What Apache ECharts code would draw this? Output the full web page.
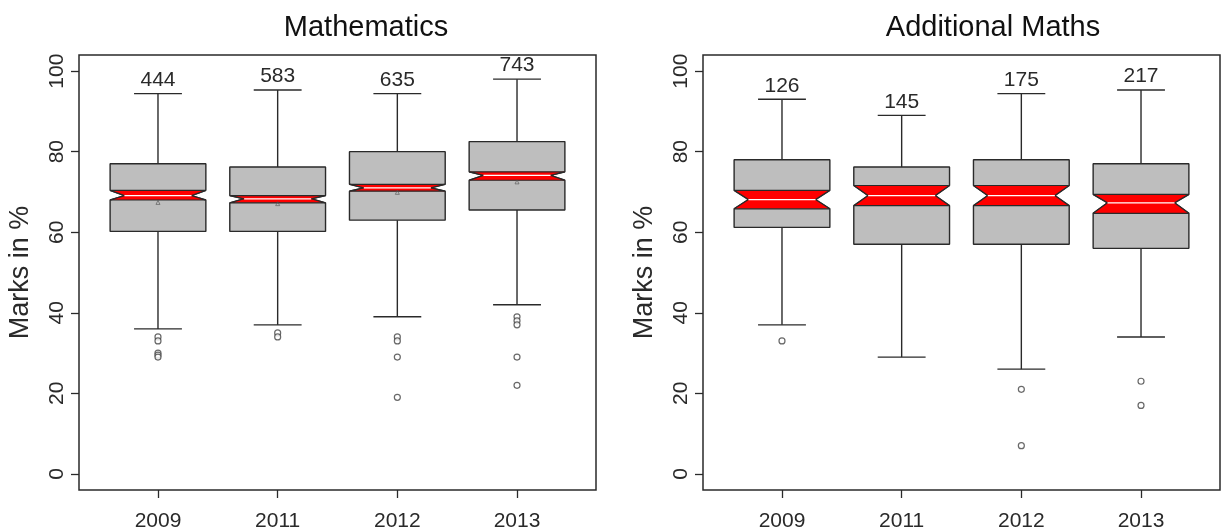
<!DOCTYPE html>
<html>
<head>
<meta charset="utf-8">
<script src="https://cdn.jsdelivr.net/npm/echarts@6/dist/echarts.min.js"></script>
<style>html,body{margin:0;padding:0;background:#fff;}#c{width:1221px;height:531px;}</style>
</head>
<body>
<div id="c"></div>
<script>
// ---- data ----
const categories = ['2009', '2011', '2012', '2013'];
const yTicks = [0, 20, 40, 60, 80, 100];
const panelTitles = ['Mathematics', 'Additional Maths'];
const yAxisName = 'Marks in %';

// Mathematics
const mathN = [444, 583, 635, 743];
const mathLowerWhisker = [36, 37, 39, 42];
const mathQ1 = [60.2, 60.2, 63, 65.5];
const mathNotchLow = [68.0, 67.3, 70.2, 72.9];
const mathMedian = [69.1, 68.3, 71.0, 74.1];
const mathNotchHigh = [70.4, 69.1, 71.9, 75.0];
const mathQ3 = [77, 76.2, 80, 82.5];
const mathUpperWhisker = [94.4, 95.3, 94.4, 98];
const mathMean = [67.4, 67.1, 69.9, 72.5];
const mathOutliers = [[34, 33, 30, 29.5, 29], [35, 34], [34, 33, 29, 19], [39, 38, 37, 29, 22]];

// Additional Maths
const addN = [126, 145, 175, 217];
const addLowerWhisker = [37, 29, 26, 34];
const addQ1 = [61.2, 57, 57, 56];
const addNotchLow = [65.8, 66.6, 66.6, 64.7];
const addMedian = [68.1, 69.1, 69.1, 67.3];
const addNotchHigh = [70.4, 71.6, 71.6, 69.4];
const addQ3 = [78, 76.2, 78, 77];
const addUpperWhisker = [93, 89, 94.4, 95.3];
const addOutliers = [[33], [], [21, 7], [23, 17]];

// ---- style ----
const FONT = '"Liberation Sans", Arial, sans-serif';
const INK = '#2a2a2a';
const BOX_W = 0.8;      // box width in x units
const NOTCH_IND = 0.15; // notch indentation as fraction of box width
const CAP_W = 0.4;

function boxRows(n, lw, q1, nl, med, nh, q3, uw) {
  return categories.map((c, i) => [i + 1, lw[i], q1[i], nl[i], med[i], nh[i], q3[i], uw[i], n[i]]);
}
function outlierPts(outs) {
  const pts = [];
  outs.forEach((arr, i) => arr.forEach(v => pts.push([i + 1, v])));
  return pts;
}

function renderBox(params, api) {
  const x = api.value(0);
  const lw = api.value(1), q1 = api.value(2), nl = api.value(3), med = api.value(4),
        nh = api.value(5), q3 = api.value(6), uw = api.value(7), n = api.value(8);
  const px = v => api.coord([x, v]);
  const c = px(med)[0];
  const half = api.size([BOX_W, 0])[0] / 2;
  const capHalf = api.size([CAP_W, 0])[0] / 2;
  const ind = 2 * half * NOTCH_IND;
  const L = c - half, R = c + half;
  const yq1 = px(q1)[1], yq3 = px(q3)[1], ynl = px(nl)[1], ynh = px(nh)[1], ym = px(med)[1];
  const ylw = px(lw)[1], yuw = px(uw)[1];
  const lineStyle = { stroke: INK, lineWidth: 1.4, fill: null };
  return {
    type: 'group',
    children: [
      { type: 'line', shape: { x1: c, y1: yq3, x2: c, y2: yuw }, style: lineStyle },
      { type: 'line', shape: { x1: c - capHalf, y1: yuw, x2: c + capHalf, y2: yuw }, style: lineStyle },
      { type: 'line', shape: { x1: c, y1: yq1, x2: c, y2: ylw }, style: lineStyle },
      { type: 'line', shape: { x1: c - capHalf, y1: ylw, x2: c + capHalf, y2: ylw }, style: lineStyle },
      { type: 'polygon', shape: { points: [[L, yq3], [R, yq3], [R, ynh], [R - ind, ym], [R, ynl], [R, yq1], [L, yq1], [L, ynl], [L + ind, ym], [L, ynh]] },
        style: { fill: '#bebebe', stroke: INK, lineWidth: 1.4, lineJoin: 'bevel' } },
      { type: 'polygon', shape: { points: [[L, ynh], [R, ynh], [R - ind, ym], [R, ynl], [L, ynl], [L + ind, ym]] },
        style: { fill: '#ff0000', stroke: INK, lineWidth: 1.2, lineJoin: 'bevel' } },
      { type: 'line', shape: { x1: L + ind, y1: ym, x2: R - ind, y2: ym }, style: { stroke: '#ffffff', lineWidth: 1.3 } },
      { type: 'text', style: { text: String(n), x: c, y: yuw - 3, align: 'center', verticalAlign: 'bottom',
        fontSize: 21, fontFamily: FONT, fill: INK } }
    ]
  };
}

const grids = [
  { left: 79, top: 55, width: 517, height: 435 },
  { left: 703, top: 55, width: 517, height: 435 }
];

function xAxisFor(gi) {
  return {
    gridIndex: gi, type: 'value', min: 0.34, max: 4.66, position: 'bottom',
    axisLine: { show: false, onZero: false }, splitLine: { show: false },
    axisTick: { show: true, length: 8, inside: false, customValues: [1, 2, 3, 4], lineStyle: { color: INK, width: 1.3 } },
    axisLabel: { show: true, customValues: [1, 2, 3, 4], formatter: v => categories[Math.round(v) - 1],
      fontSize: 21, fontFamily: FONT, color: INK, margin: 21 }
  };
}
function yAxisFor(gi) {
  return {
    gridIndex: gi, type: 'value', min: -4, max: 104, position: 'left',
    name: yAxisName, nameLocation: 'middle', nameRotate: 90, nameGap: 45,
    nameTextStyle: { fontSize: 27, fontFamily: FONT, color: INK },
    axisLine: { show: false, onZero: false }, splitLine: { show: false },
    axisTick: { show: true, length: 8, inside: false, customValues: yTicks, lineStyle: { color: INK, width: 1.3 } },
    axisLabel: { show: true, customValues: yTicks, rotate: 90, fontSize: 21, fontFamily: FONT, color: INK, margin: 11 }
  };
}

const option = {
  backgroundColor: '#ffffff',
  animation: false,
  title: [
    { text: panelTitles[0], left: 361, top: 8, textAlign: 'center', textStyle: { fontSize: 29, fontWeight: 'normal', fontFamily: FONT, color: '#111' } },
    { text: panelTitles[1], left: 988, top: 8, textAlign: 'center', textStyle: { fontSize: 29, fontWeight: 'normal', fontFamily: FONT, color: '#111' } }
  ],
  grid: grids.map(g => Object.assign({ show: true, borderColor: INK, borderWidth: 1.5, backgroundColor: 'transparent',
    containLabel: false, outerBoundsMode: 'none' }, g)),
  xAxis: [xAxisFor(0), xAxisFor(1)],
  yAxis: [yAxisFor(0), yAxisFor(1)],
  series: [
    { type: 'custom', xAxisIndex: 0, yAxisIndex: 0, renderItem: renderBox,
      data: boxRows(mathN, mathLowerWhisker, mathQ1, mathNotchLow, mathMedian, mathNotchHigh, mathQ3, mathUpperWhisker),
      encode: { x: 0, y: [1, 7] }, z: 2 },
    { type: 'custom', xAxisIndex: 1, yAxisIndex: 1, renderItem: renderBox,
      data: boxRows(addN, addLowerWhisker, addQ1, addNotchLow, addMedian, addNotchHigh, addQ3, addUpperWhisker),
      encode: { x: 0, y: [1, 7] }, z: 2 },
    { type: 'scatter', xAxisIndex: 0, yAxisIndex: 0, data: outlierPts(mathOutliers), symbol: 'circle', symbolSize: 6,
      itemStyle: { color: '#ffffff', borderColor: '#444', borderWidth: 1.2 }, z: 3 },
    { type: 'scatter', xAxisIndex: 1, yAxisIndex: 1, data: outlierPts(addOutliers), symbol: 'circle', symbolSize: 6,
      itemStyle: { color: '#ffffff', borderColor: '#444', borderWidth: 1.2 }, z: 3 },
    { type: 'scatter', xAxisIndex: 0, yAxisIndex: 0, data: mathMean.map((v, i) => [i + 1, v]), symbol: 'triangle', symbolSize: 4,
      itemStyle: { color: 'transparent', borderColor: '#555', borderWidth: 0.8 }, z: 4 }
  ]
};

const chart = echarts.init(document.getElementById('c'), null, { renderer: 'canvas' });
chart.setOption(option);
</script>
</body>
</html>
